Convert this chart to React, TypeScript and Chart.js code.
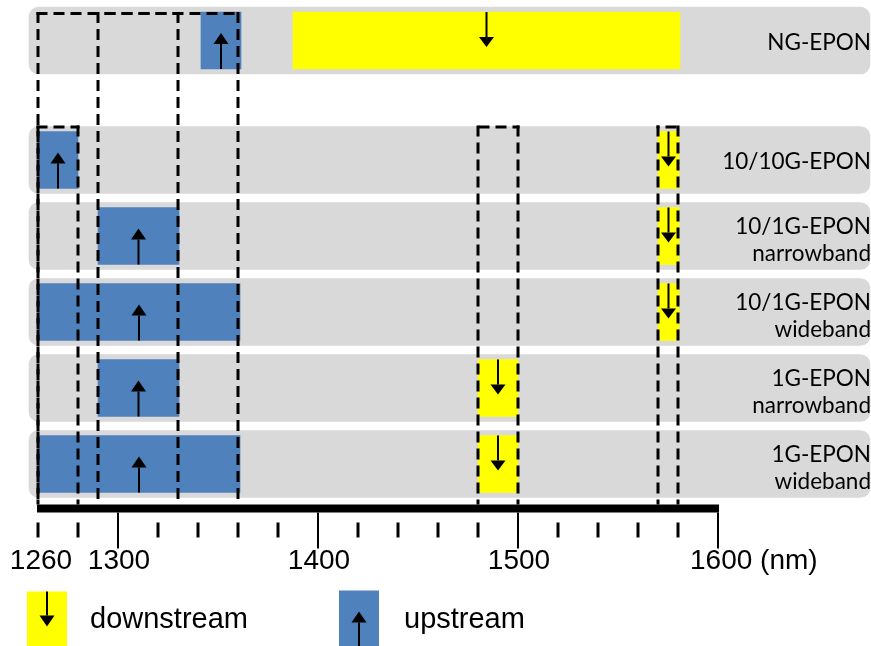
import React, { useEffect, useRef } from "react";
import { Chart, registerables } from "chart.js";

Chart.register(...registerables);

// ---------- data ----------
const rowLabels = [
  "NG-EPON",
  "10/10G-EPON",
  "10/1G-EPON\nnarrowband",
  "10/1G-EPON\nwideband",
  "1G-EPON\nnarrowband",
  "1G-EPON\nwideband",
];
// row position on the (hidden) vertical scale, in row units
const rowPositions = [-1.572, 0, 1, 2, 3, 4];

// upstream bands (nm), one per row
const upstreamStart = [1341.5, 1260, 1290, 1260, 1290, 1260];
const upstreamEnd = [1361.5, 1280, 1330.5, 1361, 1330.5, 1361];

// downstream bands (nm), one per row
const downstreamStart = [1387.5, 1570, 1570, 1570, 1480, 1480];
const downstreamEnd = [1581, 1580.5, 1580.5, 1580.5, 1500, 1500];

// dashed wavelength windows (nm) and the row they start at
const windowStart = [1260, 1290, 1260, 1480, 1570];
const windowEnd = [1360, 1330, 1280, 1500, 1580];
const windowTopRow = [0, 0, 1, 1, 1];

// axis ticks
const majorTicks = [1300, 1400, 1500, 1600];
const minorTicks = [1260, 1280, 1320, 1340, 1360, 1380, 1420, 1440, 1460, 1480, 1520, 1540, 1560, 1580];
const tickLabelValues = [1260, 1300, 1400, 1500, 1600];
const tickLabels = ["1260", "1300", "1400", "1500", "1600 (nm)"];
const axisStart = 1260;
const axisEnd = 1600;

const rowSpanStart = 1255.5;
const rowSpanEnd = 1676;

const legendLabels = ["downstream", "upstream"];

// ---------- styles ----------
const BLUE = "#4f81bd";
const YELLOW = "#ffff00";
const GRAY = "#d9d9d9";
const BAR_H = 57;
const ROW_H = 67;
const SANS = "'Liberation Sans', Arial, sans-serif";
const LABEL_FONT = "22.5px Lato, 'Open Sans', sans-serif";
const DASH = [11, 6];
const DASH_PERIOD = 17;

function drawArrow(ctx: CanvasRenderingContext2D, x: number, yStart: number, yBase: number, yTip: number) {
  ctx.save();
  ctx.strokeStyle = "#000";
  ctx.fillStyle = "#000";
  ctx.lineWidth = 2;
  ctx.setLineDash([]);
  ctx.beginPath();
  ctx.moveTo(x, yStart);
  ctx.lineTo(x, yBase);
  ctx.stroke();
  ctx.beginPath();
  ctx.moveTo(x - 7.5, yBase);
  ctx.lineTo(x + 7.5, yBase);
  ctx.lineTo(x, yTip);
  ctx.closePath();
  ctx.fill();
  ctx.restore();
}

const overlayPlugin = {
  id: "overlay",
  afterDatasetsDraw(chart: any) {
    const ctx: CanvasRenderingContext2D = chart.ctx;
    const xs = chart.scales.x;
    const ys = chart.scales.y;
    const area = chart.chartArea;
    const X = (v: number) => xs.getPixelForValue(v);
    const Y = (v: number) => ys.getPixelForValue(v);
    const axisTop = Y(4) + 40.5; // top of thick axis bar
    const axisH = 8;

    // arrows
    rowPositions.forEach((r, i) => {
      const cy = Y(r);
      const top = cy - BAR_H / 2;
      const bottom = cy + BAR_H / 2;
      const ux = X((upstreamStart[i] + upstreamEnd[i]) / 2);
      drawArrow(ctx, ux, bottom, bottom - 25, bottom - 36);
      const dx = X((downstreamStart[i] + downstreamEnd[i]) / 2);
      drawArrow(ctx, dx, top, top + 25, top + 35);
    });

    // dashed windows
    ctx.save();
    ctx.strokeStyle = "#000";
    ctx.lineWidth = 3;
    ctx.setLineDash(DASH);
    const x0 = X(axisStart) - 1.5;
    windowStart.forEach((s, i) => {
      const r = rowPositions[windowTopRow[i]];
      const top = windowTopRow[i] === 0 ? Y(r) - 27 : Y(r) - 33;
      const l = X(s);
      const rr = X(windowEnd[i]);
      // verticals, drawn from the top down
      ctx.lineDashOffset = 0;
      ctx.beginPath();
      ctx.moveTo(l, top - 1.5);
      ctx.lineTo(l, axisTop);
      ctx.moveTo(rr, top - 1.5);
      ctx.lineTo(rr, axisTop);
      ctx.stroke();
      // top edge, phase aligned on a common origin so overlapping edges stay dashed
      const off = (((l - 1.5 - x0) % DASH_PERIOD) + DASH_PERIOD) % DASH_PERIOD;
      ctx.lineDashOffset = off;
      ctx.beginPath();
      ctx.moveTo(l - 1.5, top);
      ctx.lineTo(rr + 1.5, top);
      ctx.stroke();
    });
    ctx.restore();

    // axis
    ctx.save();
    ctx.fillStyle = "#000";
    ctx.fillRect(X(axisStart) - 1, axisTop, X(axisEnd) - X(axisStart) + 2, axisH);
    ctx.strokeStyle = "#000";
    ctx.lineWidth = 3;
    minorTicks.forEach((t) => {
      ctx.beginPath();
      ctx.moveTo(X(t), axisTop + 18);
      ctx.lineTo(X(t), axisTop + 33);
      ctx.stroke();
    });
    ctx.lineWidth = 2;
    majorTicks.forEach((t) => {
      ctx.beginPath();
      ctx.moveTo(X(t), axisTop + axisH);
      ctx.lineTo(X(t), axisTop + 44);
      ctx.stroke();
    });
    ctx.font = "28px " + SANS;
    ctx.fillStyle = "#000";
    ctx.textBaseline = "alphabetic";
    tickLabelValues.forEach((v, i) => {
      const label = tickLabels[i];
      if (i === tickLabels.length - 1) {
        ctx.textAlign = "left";
        ctx.fillText(label, X(v) - 28, axisTop + 65);
      } else {
        ctx.textAlign = "center";
        ctx.fillText(label, X(v) + (i === 0 ? 3 : 1), axisTop + 65);
      }
    });
    ctx.restore();

    // row labels
    ctx.save();
    ctx.font = LABEL_FONT;
    ctx.fillStyle = "#000";
    ctx.textAlign = "right";
    ctx.textBaseline = "alphabetic";
    rowLabels.forEach((lab, i) => {
      const cy = Y(rowPositions[i]);
      const lines = lab.split("\n");
      const rx = area.right;
      if (lines.length === 1) {
        ctx.fillText(lines[0], rx, cy + 9.5);
      } else {
        ctx.fillText(lines[0], rx, cy - 1.5);
        ctx.fillText(lines[1], rx, cy + 25.5);
      }
    });
    ctx.restore();

    // legend
    ctx.save();
    const ly = axisTop + 87;
    ctx.fillStyle = YELLOW;
    ctx.fillRect(27, ly, 40, area.bottom - ly);
    drawArrow(ctx, 47, ly, ly + 24, ly + 35);
    ctx.fillStyle = BLUE;
    ctx.fillRect(339, ly - 1, 40, area.bottom - ly + 1);
    drawArrow(ctx, 359, area.bottom, ly + 31, ly + 20);
    ctx.fillStyle = "#000";
    ctx.font = "29px " + SANS;
    ctx.textAlign = "left";
    ctx.textBaseline = "alphabetic";
    ctx.fillText(legendLabels[0], 90, ly + 37);
    ctx.fillText(legendLabels[1], 404, ly + 37);
    ctx.restore();
  },
};

export default function App() {
  const canvasRef = useRef<HTMLCanvasElement | null>(null);

  useEffect(() => {
    if (!canvasRef.current) return;
    const chart = new Chart(canvasRef.current, {
      type: "bar",
      data: {
        datasets: [
          {
            label: "rows",
            data: rowPositions.map((y) => ({ x: [rowSpanStart, rowSpanEnd], y })) as any,
            backgroundColor: GRAY,
            barThickness: ROW_H,
            borderRadius: 10,
            borderSkipped: false,
            grouped: false,
            order: 3,
          } as any,
          {
            label: "upstream",
            data: rowPositions.map((y, i) => ({ x: [upstreamStart[i], upstreamEnd[i]], y })) as any,
            backgroundColor: BLUE,
            barThickness: BAR_H,
            borderSkipped: false,
            grouped: false,
            order: 1,
          } as any,
          {
            label: "downstream",
            data: rowPositions.map((y, i) => ({ x: [downstreamStart[i], downstreamEnd[i]], y })) as any,
            backgroundColor: YELLOW,
            barThickness: BAR_H,
            borderSkipped: false,
            grouped: false,
            order: 2,
          } as any,
        ],
      },
      options: {
        indexAxis: "y",
        animation: false,
        responsive: false,
        layout: { padding: 0 },
        plugins: {
          legend: { display: false },
          tooltip: { enabled: false },
        },
        scales: {
          x: { type: "linear", min: 1241, max: 1676.5, display: false, offset: false },
          y: { type: "linear", min: -2.10526, max: 6.39474, reverse: true, display: false, offset: false },
        },
      } as any,
      plugins: [overlayPlugin],
    });
    return () => chart.destroy();
  }, []);

  return (
    <div style={{ position: "fixed", left: 0, top: 0, width: 871, height: 646, background: "#fff" }}>
      <canvas ref={canvasRef} width={871} height={646} style={{ display: "block" }} />
    </div>
  );
}
